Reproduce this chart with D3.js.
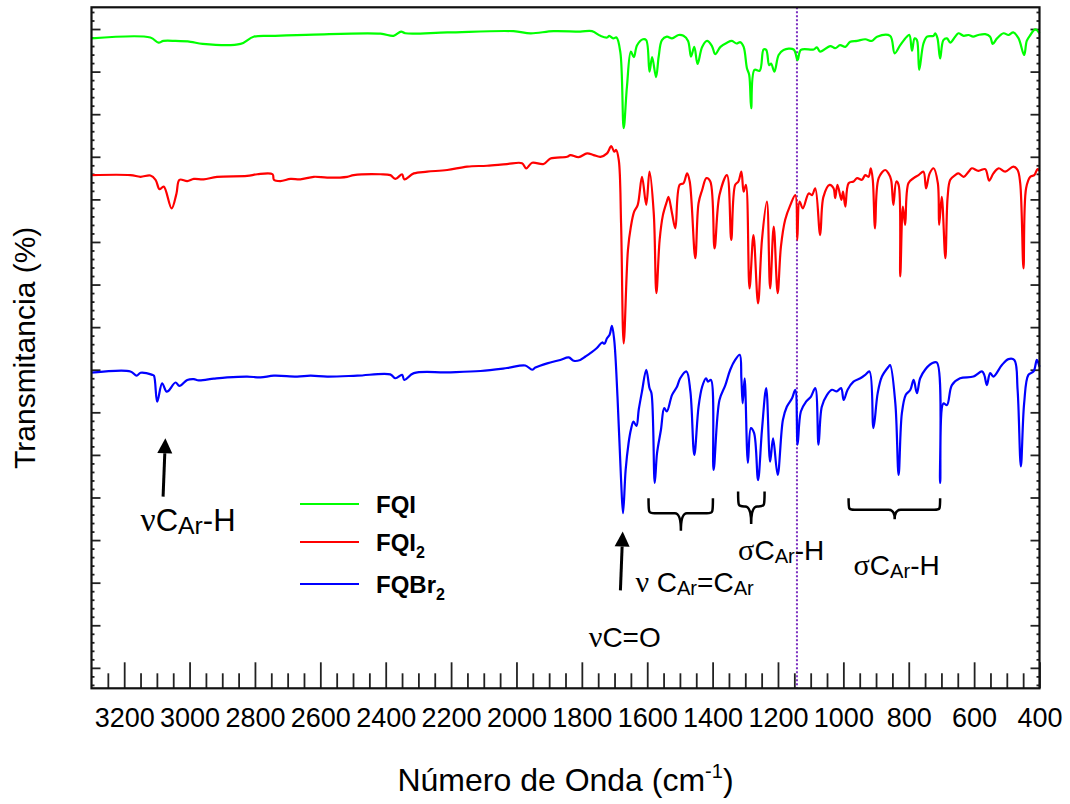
<!DOCTYPE html>
<html><head><meta charset="utf-8">
<script src="https://cdn.jsdelivr.net/npm/d3@7"></script>
<style>
html,body{margin:0;padding:0;background:#fff;}
svg{display:block;font-family:"Liberation Sans",Arial,sans-serif;}
</style></head>
<body>
<svg id="chart" width="1070" height="804"></svg>
<script>
// ---- data ----
const xTickValues = [3200,3000,2800,2600,2400,2200,2000,1800,1600,1400,1200,1000,800,600,400];
const xTickLabels = ["3200","3000","2800","2600","2400","2200","2000","1800","1600","1400","1200","1000","800","600","400"];
const seriesNames = ["FQI","FQI2","FQBr2"];
const markerWavenumber = 1142;

const fqi = [[3300,147.8],[3120,148.0],[3095,146.8],[3080,147.2],[3043,147.2],[2997,147.0],[2960,146.5],[2844,146.5],[2804,148.2],[2743,148.4],[2621,148.7],[2416,148.9],[2376,148.4],[2353,149.4],[2340,149.0],[2211,149.2],[2009,149.5],[1957,149.0],[1887,149.5],[1805,149.4],[1769,149.5],[1743,148.4],[1723,148.0],[1716,148.4],[1704,147.8],[1694,148.0],[1682,144.4],[1672,126.7],[1662,136.5],[1650,144.7],[1641,143.4],[1631,146.2],[1613,147.6],[1603,147.4],[1593,140.0],[1585,143.4],[1573,138.7],[1565,143.5],[1555,147.4],[1540,148.2],[1524,147.8],[1504,148.6],[1489,148.4],[1475,147.2],[1466,143.5],[1456,145.8],[1446,141.8],[1432,145.8],[1417,147.2],[1402,146.0],[1392,144.1],[1376,145.8],[1356,146.8],[1341,147.2],[1327,146.6],[1315,146.9],[1305,145.8],[1295,140.8],[1288,139.2],[1282,131.4],[1272,140.4],[1256,140.2],[1244,145.2],[1236,145.1],[1227,141.5],[1221,141.9],[1211,140.0],[1198,143.9],[1183,145.1],[1152,145.2],[1140,142.7],[1130,145.1],[1091,145.2],[1081,145.7],[1071,144.7],[1040,146.0],[1025,145.5],[1010,146.2],[994,145.8],[979,147.0],[958,147.2],[933,147.6],[913,147.2],[897,148.2],[857,148.4],[843,144.3],[826,146.2],[806,148.2],[798,148.6],[790,144.9],[782,147.8],[775,147.4],[768,140.4],[755,146.6],[744,148.2],[724,148.4],[719,149.0],[712,147.8],[704,143.1],[694,147.4],[683,147.8],[673,146.8],[658,148.2],[648,149.0],[632,148.4],[617,148.6],[603,148.2],[587,148.6],[566,148.8],[551,148.2],[543,146.5],[530,147.8],[510,149.0],[495,148.6],[480,149.2],[464,147.8],[447,143.9],[439,147.2],[428,148.6],[413,149.9],[400,149.0]];

const fqi2 = [[3300,115.7],[3181,115.7],[3150,115.3],[3120,115.6],[3104,114.6],[3092,112.4],[3079,113.0],[3055,107.9],[3040,111.4],[3031,114.6],[3007,114.3],[2987,114.8],[2957,114.7],[2916,115.3],[2824,115.5],[2793,115.9],[2746,115.9],[2742,114.6],[2722,114.3],[2691,114.8],[2661,114.7],[2620,115.3],[2579,115.1],[2518,115.3],[2498,115.7],[2416,115.9],[2386,115.7],[2370,114.8],[2350,115.9],[2343,114.7],[2314,116.1],[2273,116.5],[2212,116.9],[2151,117.7],[2090,117.9],[2029,118.3],[1983,118.5],[1970,117.3],[1952,118.6],[1917,118.3],[1896,119.6],[1845,120.0],[1835,120.4],[1810,119.9],[1784,120.8],[1764,120.4],[1743,120.0],[1723,120.8],[1710,122.5],[1701,121.2],[1695,121.6],[1687,119.2],[1680,104.4],[1672,76.2],[1659,98.1],[1650,103.6],[1640,107.1],[1629,108.7],[1616,115.3],[1603,108.7],[1593,116.5],[1580,106.7],[1572,88.0],[1562,100.5],[1552,106.3],[1540,109.5],[1535,110.6],[1524,106.7],[1514,103.2],[1501,113.4],[1489,113.8],[1478,116.1],[1470,114.2],[1453,96.2],[1443,109.1],[1432,112.2],[1419,115.0],[1407,114.2],[1394,98.5],[1379,111.0],[1356,115.7],[1343,100.5],[1331,113.4],[1321,114.2],[1312,116.5],[1305,111.8],[1298,113.4],[1287,89.1],[1275,101.6],[1261,85.6],[1249,100.5],[1234,109.5],[1224,89.1],[1213,103.6],[1201,88.0],[1191,98.9],[1178,105.2],[1162,108.7],[1147,111.0],[1141,100.5],[1134,109.5],[1124,107.9],[1106,111.4],[1096,111.0],[1086,112.6],[1071,101.6],[1061,110.6],[1042,113.4],[1030,112.6],[1025,110.3],[1018,113.4],[1006,109.9],[1001,111.8],[994,108.3],[984,113.8],[969,114.2],[958,115.0],[943,114.6],[933,115.7],[923,115.3],[916,117.3],[910,114.6],[903,103.2],[892,115.0],[872,116.9],[862,116.1],[854,114.6],[847,108.7],[838,114.2],[831,113.4],[826,91.9],[818,108.3],[811,104.0],[801,113.8],[785,115.0],[770,115.7],[755,116.5],[747,112.6],[736,116.1],[724,117.3],[711,113.8],[707,104.0],[699,110.6],[688,96.2],[681,110.6],[673,114.6],[658,115.7],[648,116.1],[632,115.3],[617,116.5],[607,117.3],[587,116.7],[566,117.1],[554,114.4],[541,116.1],[525,117.3],[505,116.5],[480,117.7],[467,116.9],[459,113.8],[449,93.8],[441,112.6],[428,115.3],[416,115.7],[406,117.1],[400,116.7]];

const fqbr2 = [[3300,69.3],[3181,69.6],[3162,68.6],[3150,69.3],[3114,68.8],[3109,68.6],[3099,62.5],[3084,66.8],[3071,64.9],[3065,65.0],[3043,67.0],[3031,66.2],[3007,67.6],[2987,67.8],[2972,67.5],[2926,67.9],[2885,68.2],[2824,68.4],[2783,68.2],[2742,68.6],[2671,68.4],[2630,68.6],[2579,68.4],[2487,68.6],[2386,68.9],[2370,68.0],[2350,68.8],[2343,67.6],[2314,69.2],[2212,69.4],[2110,69.7],[2029,70.4],[1973,71.0],[1952,70.0],[1942,70.5],[1906,71.5],[1866,72.3],[1840,72.9],[1825,72.1],[1805,72.3],[1789,73.1],[1774,73.9],[1754,75.1],[1738,76.4],[1731,76.1],[1723,77.4],[1715,78.2],[1708,80.3],[1701,77.0],[1691,63.7],[1680,44.1],[1674,36.3],[1666,46.5],[1657,52.8],[1650,55.9],[1642,57.8],[1633,56.8],[1626,60.6],[1616,64.9],[1603,70.0],[1593,65.7],[1587,64.5],[1577,43.4],[1570,50.4],[1558,55.9],[1548,61.0],[1540,60.2],[1524,64.1],[1509,66.0],[1499,68.0],[1480,69.6],[1468,64.9],[1456,50.0],[1443,61.3],[1432,66.0],[1420,68.0],[1414,67.2],[1405,67.6],[1397,46.5],[1379,62.9],[1361,66.4],[1346,70.0],[1331,72.3],[1317,73.5],[1312,68.0],[1308,62.1],[1302,68.0],[1292,48.1],[1283,56.3],[1273,55.1],[1261,44.1],[1249,55.9],[1236,65.7],[1224,48.4],[1215,53.9],[1201,45.3],[1185,58.2],[1173,61.3],[1157,63.3],[1147,65.3],[1140,52.4],[1130,60.2],[1114,62.5],[1099,63.7],[1086,65.7],[1076,52.4],[1066,61.3],[1050,64.1],[1035,65.3],[1020,64.9],[1007,65.7],[999,62.9],[987,65.3],[969,67.2],[948,68.0],[933,68.8],[920,69.6],[908,56.3],[895,64.5],[882,68.4],[862,70.7],[857,71.1],[841,62.1],[831,45.3],[821,59.8],[809,64.1],[795,65.3],[785,67.6],[775,64.5],[765,68.0],[750,70.0],[729,71.5],[714,71.7],[704,43.4],[694,62.1],[683,61.7],[668,66.4],[643,68.0],[602,68.4],[576,69.6],[569,68.8],[561,66.4],[551,69.2],[541,68.4],[515,71.1],[495,72.5],[477,72.3],[467,65.3],[457,47.3],[447,62.1],[434,68.8],[418,69.6],[408,72.3],[400,70.7]];

// annotation anchors in data units [wavenumber, value]
const arrows = [ {from:[1682,18.2], to:[1675,32.0]}, {from:[3081,40.2], to:[3074,53.9]} ];
const braces = [
  {x0:1596, x1:1399, xm:1497, yTip:39.8, yBar:36.3, yStem:32.2},
  {x0:1322, x1:1241, xm:1282, yTip:41.4, yBar:37.9, yStem:33.8},
  {x0:984,  x1:704,  xm:843,  yTip:39.8, yBar:37.1, yStem:34.9}
];

// ---- chart ----
const svg = d3.select("#chart");
const L = 91.5, R = 1039.5, T = 7.3, B = 688.3;
const x = d3.scaleLinear().domain([3300, 400]).range([L, R]);
const y = d3.scaleLinear().domain([-4.8, 155.1]).range([B, T]);
const colors = ["#00ff00", "#ff0000", "#0000ff"];

// axes
const minorX = d3.range(3250, 400, -50).filter(v => v % 200 !== 0);
svg.append("g").attr("transform", `translate(0,${B})`)
  .call(d3.axisBottom(x).tickValues(minorX).tickSize(-15).tickFormat(""));
const gx = svg.append("g").attr("transform", `translate(0,${B})`)
  .call(d3.axisBottom(x).tickValues(xTickValues).tickSize(-26).tickPadding(20)
    .tickFormat((d, i) => xTickLabels[i]));
gx.selectAll("text").attr("font-size", 27).attr("fill", "#000")
  .attr("font-family", '"Liberation Sans", Arial, sans-serif');

const yMajor = d3.range(0, 151, 10);
const yMinor = d3.range(-4, 155, 2).filter(v => v % 10 !== 0);
svg.append("g").attr("transform", `translate(${L},0)`).call(d3.axisLeft(y).tickValues(yMinor).tickSize(-3).tickFormat(""));
svg.append("g").attr("transform", `translate(${L},0)`).call(d3.axisLeft(y).tickValues(yMajor).tickSize(-9).tickFormat(""));
svg.append("g").attr("transform", `translate(${R},0)`).call(d3.axisRight(y).tickValues(yMinor).tickSize(-3).tickFormat(""));
svg.append("g").attr("transform", `translate(${R},0)`).call(d3.axisRight(y).tickValues(yMajor).tickSize(-9).tickFormat(""));
svg.selectAll(".domain").remove();
svg.selectAll(".tick line").attr("stroke", "#222").attr("stroke-width", 1.8);

// marker line
svg.append("line").attr("x1", x(markerWavenumber)).attr("x2", x(markerWavenumber))
  .attr("y1", T).attr("y2", B).attr("stroke", "#7a2ec0").attr("stroke-width", 2)
  .attr("stroke-dasharray", "2,2");

// series
const line = d3.line().x(d => x(d[0])).y(d => y(d[1])).curve(d3.curveCatmullRom.alpha(0.5));
[fqi, fqi2, fqbr2].forEach((s, i) => {
  svg.append("path").datum(s).attr("d", line).attr("fill", "none")
    .attr("stroke", colors[i]).attr("stroke-width", 2.2).attr("stroke-linejoin", "round");
});

// frame
svg.append("rect").attr("x", L).attr("y", T).attr("width", R - L).attr("height", B - T)
  .attr("fill", "none").attr("stroke", "#111").attr("stroke-width", 2.2);

// axis titles
const xt = svg.append("text").attr("x", (L + R) / 2).attr("y", 791).attr("text-anchor", "middle")
  .attr("font-size", 32).attr("fill", "#000");
xt.append("tspan").text("Número de Onda (cm");
xt.append("tspan").text("-1").attr("font-size", 20).attr("dy", -13);
xt.append("tspan").text(")").attr("dy", 13);

svg.append("text").attr("transform", `translate(35,${(T + B) / 2}) rotate(-90)`)
  .attr("text-anchor", "middle").attr("font-size", 30).attr("fill", "#000")
  .text("Transmitancia (%)");

// legend
const legY = [504, 542, 584];
legY.forEach((ly, i) => {
  svg.append("line").attr("x1", 300).attr("x2", 359).attr("y1", ly).attr("y2", ly)
    .attr("stroke", colors[i]).attr("stroke-width", 2.2);
  const t = svg.append("text").attr("x", 376).attr("y", ly + 9).attr("font-size", 24)
    .attr("font-weight", "bold").attr("fill", "#000");
  const nm = seriesNames[i];
  const m = nm.match(/^(.*?)(\d*)$/);
  t.append("tspan").text(m[1]);
  if (m[2]) t.append("tspan").text(m[2]).attr("font-size", 16).attr("dy", 7);
});

// arrows
arrows.forEach(a => {
  const x0 = x(a.from[0]), y0 = y(a.from[1]), x1 = x(a.to[0]), y1 = y(a.to[1]);
  const ang = Math.atan2(y1 - y0, x1 - x0);
  const hl = 15, hw = 7.5;
  const bx = x1 - hl * Math.cos(ang), by = y1 - hl * Math.sin(ang);
  svg.append("line").attr("x1", x0).attr("y1", y0).attr("x2", bx).attr("y2", by)
    .attr("stroke", "#000").attr("stroke-width", 3);
  const px = -Math.sin(ang), py = Math.cos(ang);
  svg.append("path").attr("d", `M${x1},${y1}L${bx + hw * px},${by + hw * py}L${bx - hw * px},${by - hw * py}Z`)
    .attr("fill", "#000");
});

// braces
braces.forEach(b => {
  const xl = x(b.x0), xr = x(b.x1), xm = x(b.xm), yt = y(b.yTip), yb = y(b.yBar), ys = y(b.yStem);
  const r = 6;
  const d = `M${xl},${yt} C${xl},${yb} ${xl},${yb} ${xl + r},${yb} L${xm - r},${yb} Q${xm},${yb} ${xm},${ys}` +
            ` M${xr},${yt} C${xr},${yb} ${xr},${yb} ${xr - r},${yb} L${xm + r},${yb} Q${xm},${yb} ${xm},${ys}`;
  svg.append("path").attr("d", d).attr("fill", "none").attr("stroke", "#000").attr("stroke-width", 2.5);
});

// annotation labels
function label(wn, v, parts, fs, sub) {
  const t = svg.append("text").attr("x", x(wn)).attr("y", y(v)).attr("font-size", fs).attr("fill", "#000");
  let shift = 0;
  parts.forEach(p => {
    const s = t.append("tspan").text(p[0]);
    if (p[1] === "g") s.attr("font-family", '"Liberation Serif", serif').attr("font-size", fs * 1.08);
    if (p[1] === "s") { s.attr("font-size", fs * sub).attr("dy", 3 - shift); shift = 3; }
    else if (shift) { s.attr("dy", -shift); shift = 0; }
  });
}
label(3150, 32.2, [["ν","g"],["C"],["Ar","s"],["-H"]], 31, 0.8);
label(1779, 5.0, [["ν","g"],["C=O"]], 28, 0.72);
label(1636, 17.9, [["ν ","g"],["C"],["Ar","s"],["=C"],["Ar","s"]], 28, 0.72);
label(1322, 25.4, [["σ","g"],["C"],["Ar","s"],["-H"]], 28, 0.72);
label(969, 21.8, [["σ","g"],["C"],["Ar","s"],["-H"]], 28, 0.72);
</script>
</body></html>
